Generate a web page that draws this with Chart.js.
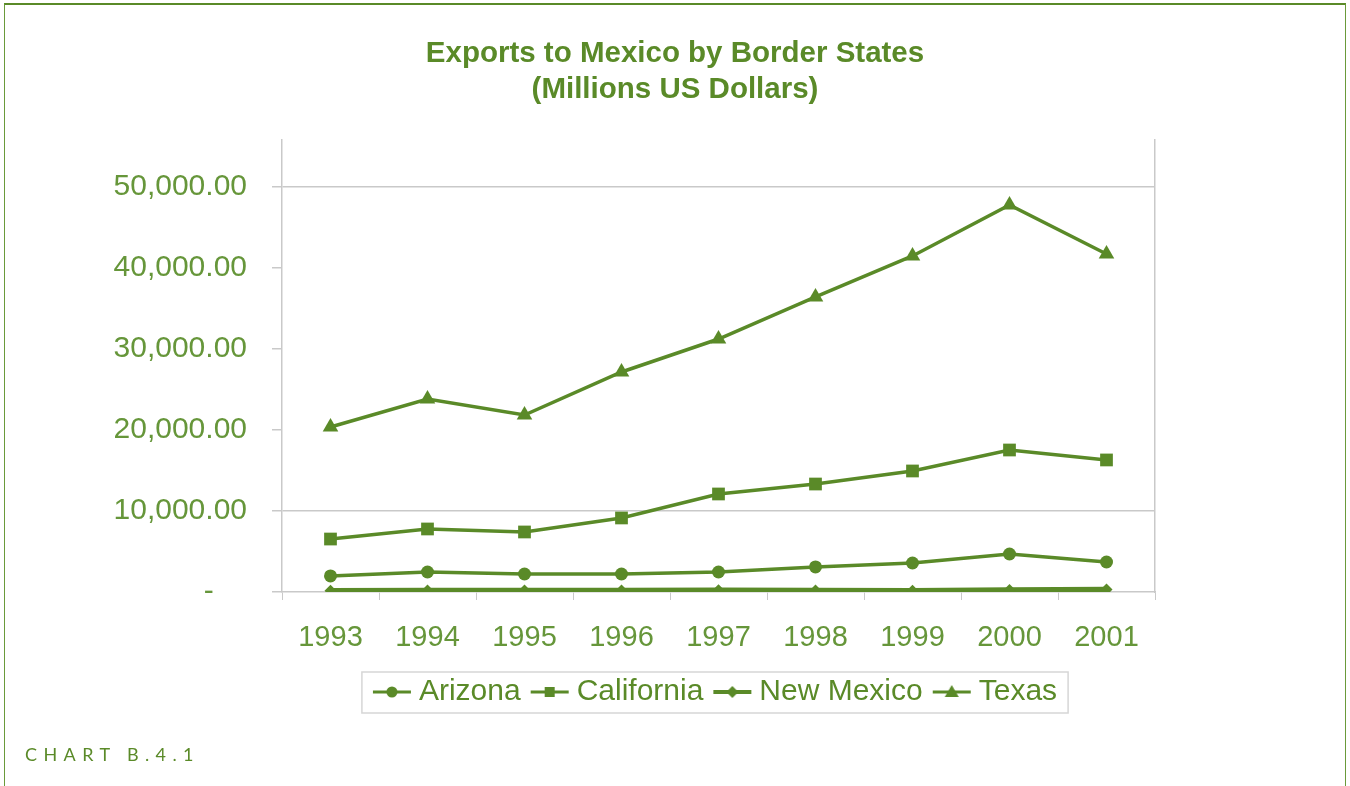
<!DOCTYPE html>
<html>
<head>
<meta charset="utf-8">
<script src="https://cdn.jsdelivr.net/npm/chart.js@4/dist/chart.umd.min.js"></script>
<style>
  html, body { margin: 0; padding: 0; background: #fff; }
  #page { position: relative; width: 1350px; height: 786px; overflow: hidden; }
  #frame { position: absolute; left: 4px; top: 3px; width: 1340px; height: 800px;
           border-top: 2px solid #5a8a28; border-left: 1.5px solid #6a9a3a; border-right: 1.5px solid #6a9a3a; }
  #wrap { position: absolute; left: 0; top: 0; width: 1350px; height: 786px; }
  #caption { position: absolute; left: 25px; top: 743px; font-family: "Lato", "Open Sans", sans-serif;
             font-size: 18px; letter-spacing: 6.4px; color: #5a8a28; }
</style>
</head>
<body>
<div id="page">
  <div id="frame"></div>
  <div id="wrap"><canvas id="exportsChart"></canvas></div>
  <div id="caption">CHART B.4.1</div>
</div>
<script>
// Exports to Mexico, millions of US dollars
const years = ['1993', '1994', '1995', '1996', '1997', '1998', '1999', '2000', '2001'];
const arizona    = [1980, 2470, 2220, 2220, 2470, 3090, 3580, 4690, 3700];
const california = [6540, 7780, 7410, 9140, 12100, 13330, 14940, 17530, 16300];
const newMexico  = [160, 200, 180, 190, 230, 170, 160, 240, 300];
const texas      = [20370, 23830, 21850, 27160, 31230, 36420, 41480, 47780, 41730];
const yTicks     = [0, 10000, 20000, 30000, 40000, 50000];

const green = '#5a8a28';
const labelGreen = '#66963a';
const gray = '#c9c9c9';
const font = '"Liberation Sans", Arial, sans-serif';

// legend swatch: short line with the series marker on top
function legendIcon(style) {
    const c = document.createElement('canvas');
    c.width = 40; c.height = 18;
    const g = c.getContext('2d');
    g.strokeStyle = green; g.fillStyle = green;
    g.lineWidth = style === 'rectRot' ? 4 : 3;
    g.beginPath(); g.moveTo(1, 9); g.lineTo(39, 9); g.stroke();
    g.beginPath();
    if (style === 'circle') g.arc(20, 9, 5.5, 0, Math.PI * 2);
    else if (style === 'rect') g.rect(15, 4, 10, 10);
    else if (style === 'rectRot') { g.moveTo(20, 3); g.lineTo(26, 9); g.lineTo(20, 15); g.lineTo(14, 9); g.closePath(); }
    else { g.moveTo(20, 2); g.lineTo(27, 14); g.lineTo(13, 14); g.closePath(); }
    g.fill();
    return c;
}

const series = [
    { label: 'Arizona', data: arizona, style: 'circle', radius: 6.5, width: 3.5 },
    { label: 'California', data: california, style: 'rect', radius: 9, width: 3.5 },
    { label: 'New Mexico', data: newMexico, style: 'rectRot', radius: 6, width: 5.5 },
    { label: 'Texas', data: texas, style: 'triangle', radius: 9, width: 3.5 }
];
const icons = series.map(s => legendIcon(s.style));

// box around the legend items
const legendFrame = {
    id: 'legendFrame',
    afterDraw(chart) {
        const boxes = chart.legend && chart.legend.legendHitBoxes;
        if (!boxes || !boxes.length) return;
        const first = boxes[0], last = boxes[boxes.length - 1];
        const ctx = chart.ctx;
        ctx.save();
        ctx.strokeStyle = '#d6d6d6';
        ctx.lineWidth = 1.5;
        const left = first.left - 18, right = last.left + last.width + 11;
        ctx.strokeRect(left, first.top - 5, right - left, first.height + 11);
        ctx.restore();
    }
};

new Chart(document.getElementById('exportsChart'), {
    type: 'line',
    data: {
        labels: years,
        datasets: series.map(s => ({
            label: s.label, data: s.data,
            borderColor: green, backgroundColor: green,
            borderWidth: s.width, pointStyle: s.style, pointRadius: s.radius,
            pointBorderWidth: 0, pointBackgroundColor: green, tension: 0
        }))
    },
    options: {
        responsive: true, maintainAspectRatio: false, animation: false,
        layout: { padding: { left: 0, right: 0, top: 0, bottom: 69 } },
        plugins: {
            title: {
                display: true,
                text: ['Exports to Mexico by Border States', '(Millions US Dollars)'],
                color: green,
                font: { family: font, size: 29.5, weight: 'bold', lineHeight: 1.22 },
                padding: { top: 36, bottom: 32 }
            },
            legend: {
                position: 'bottom', fullSize: false,
                labels: {
                    color: green, usePointStyle: true, pointStyleWidth: 24, padding: 17,
                    font: { family: font, size: 30 },
                    generateLabels: (chart) => series.map((s, i) => ({
                        text: s.label, pointStyle: icons[i], fontColor: green,
                        datasetIndex: i, hidden: false, lineWidth: 0
                    }))
                }
            },
            tooltip: { enabled: false }
        },
        scales: {
            x: {
                offset: true,
                grid: { offset: true, drawOnChartArea: false, color: gray, tickLength: 8 },
                border: { color: gray, width: 1.5 },
                ticks: { color: labelGreen, padding: 21, font: { family: font, size: 29 } },
                afterFit: (scale) => { scale.height = 68; }
            },
            y: {
                min: 0, max: 55800,
                afterBuildTicks: (scale) => { scale.ticks = yTicks.map(v => ({ value: v })); },
                afterFit: (scale) => { scale.width = 282; },
                grid: {
                    color: (ctx) => (ctx.tick && (ctx.tick.value === 10000 || ctx.tick.value === 50000)) ? gray : 'rgba(0,0,0,0)',
                    tickColor: gray, tickLength: 10, lineWidth: 1.5
                },
                border: { color: gray, width: 1.5 },
                ticks: {
                    color: labelGreen, padding: 25,
                    font: { family: font, size: 30 },
                    callback: (v) => v === 0 ? '-    ' : v.toLocaleString('en-US', { minimumFractionDigits: 2, maximumFractionDigits: 2 })
                }
            },
            yRight: {
                position: 'right', min: 0, max: 55800,
                grid: { display: false },
                ticks: { display: false },
                border: { color: gray, width: 1.5 },
                afterFit: (scale) => { scale.width = 195; }
            }
        }
    },
    plugins: [legendFrame]
});
</script>
</body>
</html>
